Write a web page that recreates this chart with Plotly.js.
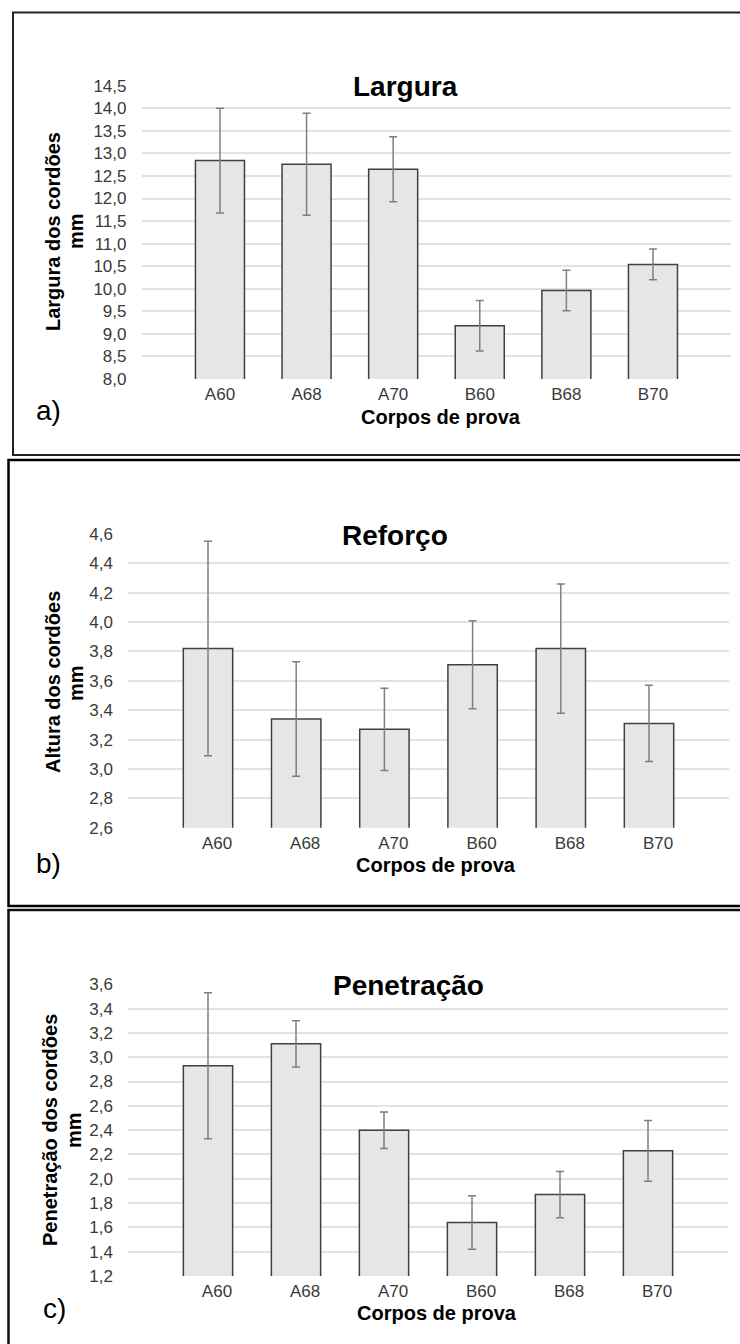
<!DOCTYPE html>
<html>
<head>
<meta charset="utf-8">
<script src="https://cdn.plot.ly/plotly-3.0.1.min.js"></script>
<style>
html,body{margin:0;padding:0;background:#fff;}
#chart{width:740px;height:1344px;}
</style>
</head>
<body>
<div id="chart"></div>
<script>
// ---- data ----
const categories = ["A60", "A68", "A70", "B60", "B68", "B70"];

const larguraMeans = [12.84, 12.76, 12.65, 9.18, 9.96, 10.54];
const larguraErr   = [1.16, 1.13, 0.72, 0.56, 0.45, 0.34];

const reforcoMeans = [3.82, 3.34, 3.27, 3.71, 3.82, 3.31];
const reforcoErr   = [0.73, 0.39, 0.28, 0.30, 0.44, 0.26];

const penetracaoMeans = [2.93, 3.11, 2.40, 1.64, 1.87, 2.23];
const penetracaoErr   = [0.60, 0.19, 0.15, 0.22, 0.19, 0.25];

const titles = ["Largura", "Reforço", "Penetração"];
const yTitles = ["Largura dos cordões", "Altura dos cordões", "Penetração dos cordões"];
const yUnit = "mm";
const xTitle = "Corpos de prova";
const panelLabels = ["a)", "b)", "c)"];

// ---- layout helpers (pixel -> paper) ----
const W = 740, H = 1344;
const px = v => v / W;
const py = v => 1 - v / H;

const FONT = "'Liberation Sans', Arial, sans-serif";
const barFill = "#e6e6e6";
const barLine = "#404040";
const errColor = "#7f7f7f";
const gridColor = "#e2e2e2";
const tickColor = "#3a3a3a";

function barTrace(means, err, xa, ya, width) {
  return {
    type: "bar",
    x: categories,
    y: means,
    xaxis: xa, yaxis: ya,
    width: width,
    marker: {color: barFill, line: {color: barLine, width: 1.5}},
    error_y: {type: "data", array: err, visible: true, color: errColor, thickness: 1.5, width: 4},
    hoverinfo: "skip",
    showlegend: false
  };
}

const data = [
  barTrace(larguraMeans, larguraErr, "x", "y", 0.566),
  barTrace(reforcoMeans, reforcoErr, "x2", "y2", 0.56),
  barTrace(penetracaoMeans, penetracaoErr, "x3", "y3", 0.56)
];

function xaxis(d0, d1, r0, r1, anchor, shift) {
  return {
    domain: [px(d0), px(d1)],
    range: [r0, r1],
    anchor: anchor,
    type: "category",
    showgrid: false, zeroline: false, showline: false,
    ticks: "",
    tickfont: {family: FONT, size: 17, color: tickColor},
    ticklabelstandoff: 3,
    ticklabelshift: shift,
    fixedrange: true
  };
}
function yaxis(top, bottom, r0, r1, dtick, anchor) {
  return {
    domain: [py(bottom), py(top)],
    range: [r0, r1],
    anchor: anchor,
    dtick: dtick, tick0: r0,
    tickformat: ".1f",
    showgrid: true, gridcolor: gridColor, gridwidth: 2,
    zeroline: false, showline: false,
    ticks: "",
    tickfont: {family: FONT, size: 17, color: tickColor},
    ticklabelstandoff: 14,
    fixedrange: true
  };
}

function ann(text, x, y, size, opts) {
  return Object.assign({
    text: text, x: px(x), y: py(y), xref: "paper", yref: "paper",
    xanchor: "center", yanchor: "middle", showarrow: false,
    font: {family: FONT, size: size, color: "#000"}
  }, opts || {});
}

const annotations = [
  // chart titles (overlaid on top gridline, white background)
  ann("<b>" + titles[0] + "</b>", 406, 86, 28, {bgcolor: "#fff", borderpad: 4}),
  ann("<b>" + titles[1] + "</b>", 395, 535, 28, {bgcolor: "#fff", borderpad: 4}),
  ann("<b>" + titles[2] + "</b>", 408, 985, 28, {bgcolor: "#fff", borderpad: 4}),
  // y titles
  ann("<b>" + yTitles[0] + "</b>", 53, 232, 20, {textangle: -90}),
  ann("<b>" + yUnit + "</b>", 76, 231, 20, {textangle: -90}),
  ann("<b>" + yTitles[1] + "</b>", 53, 682, 20, {textangle: -90}),
  ann("<b>" + yUnit + "</b>", 76, 683, 20, {textangle: -90}),
  ann("<b>" + yTitles[2] + "</b>", 50, 1130, 20, {textangle: -90}),
  ann("<b>" + yUnit + "</b>", 74, 1130, 20, {textangle: -90}),
  // x titles
  ann("<b>" + xTitle + "</b>", 441, 417, 20),
  ann("<b>" + xTitle + "</b>", 436, 865, 20),
  ann("<b>" + xTitle + "</b>", 437, 1313, 20),
  // panel labels
  ann(panelLabels[0], 48, 411, 28),
  ann(panelLabels[1], 48, 863, 28),
  ann(panelLabels[2], 54, 1308, 28)
];

const shapes = [
  {type: "rect", xref: "paper", yref: "paper", x0: px(13), x1: px(750), y0: py(455), y1: py(12.5),
   line: {color: "#222", width: 2}},
  {type: "rect", xref: "paper", yref: "paper", x0: px(8.5), x1: px(750), y0: py(906), y1: py(460),
   line: {color: "#000", width: 2.5}},
  {type: "rect", xref: "paper", yref: "paper", x0: px(8.5), x1: px(750), y0: py(1360), y1: py(910),
   line: {color: "#111", width: 2.5}}
];

const layout = {
  width: W, height: H,
  margin: {l: 0, r: 0, t: 0, b: 0},
  paper_bgcolor: "#fff", plot_bgcolor: "rgba(0,0,0,0)",
  separators: ", ",
  bargap: 0.4,
  font: {family: FONT},
  xaxis:  xaxis(141.5, 731, -0.906, 5.901, "y", 0),
  yaxis:  yaxis(85.7, 379, 8, 14.5, 0.5, "x"),
  xaxis2: xaxis(128, 729, -0.907, 5.907, "y2", 9),
  yaxis2: yaxis(534, 827.7, 2.6, 4.6, 0.2, "x2"),
  xaxis3: xaxis(128, 728, -0.909, 5.909, "y3", 9),
  yaxis3: yaxis(984.3, 1276, 1.2, 3.6, 0.2, "x3"),
  annotations: annotations,
  shapes: shapes
};

Plotly.newPlot("chart", data, layout, {displayModeBar: false, staticPlot: true});
</script>
</body>
</html>
